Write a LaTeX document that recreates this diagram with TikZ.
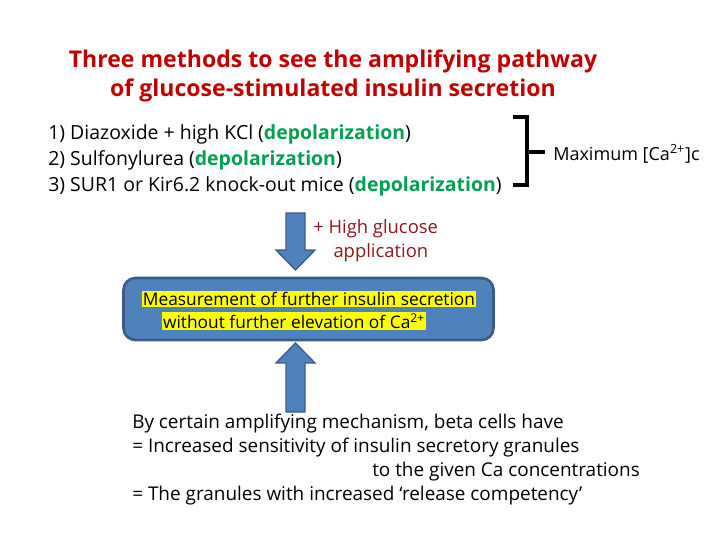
\documentclass[tikz,border=0pt]{standalone}
\usepackage{fontspec}
\setmainfont{Open Sans}
\definecolor{titlered}{HTML}{C00000}
\definecolor{darkred}{HTML}{8B1A1A}
\definecolor{grn}{HTML}{00A050}
\definecolor{boxblue}{HTML}{4F81BD}
\definecolor{boxedge}{HTML}{385D8A}
\definecolor{hl}{HTML}{FFFF00}
\tikzset{
  txt/.style={inner sep=0pt, font=\fontsize{13.8}{18.5}\selectfont, align=left},
  bigarrow/.style={fill=boxblue, draw=boxedge, line width=1pt},
  hilite/.style={fill=hl, inner sep=1pt, font=\fontsize{13}{16}\selectfont}
}
\newcommand{\dep}{\textbf{\textcolor{grn}{depolarization}}}
\begin{document}
\begin{tikzpicture}[x=0.75pt,y=-0.75pt]
\useasboundingbox (0,0) rectangle (720,540);
\node[inner sep=0pt, align=center, text=titlered, font=\fontsize{17.3}{22}\selectfont\bfseries] (title) at (333,76)
  {Three methods to see the amplifying pathway\\of glucose-stimulated insulin secretion};
\node[txt, anchor=north west, font=\fontsize{14.6}{19.5}\selectfont] (list) at (48,124)
  {1) Diazoxide + high KCl (\dep)\\2) Sulfonylurea (\dep)\\3) SUR1 or Kir6.2 knock-out mice (\dep)};
\coordinate (b1) at (513,117);
\coordinate (b2) at (513,185);
\coordinate (bm) at (545,152);
\draw[line width=2.5pt] (b1) -- ++(14,0) coordinate (bt) -- (bt |- b2) -- (b2);
\draw[line width=2.5pt] (bt |- bm) -- (bm);
\node[txt, anchor=west, font=\fontsize{13.5}{18}\selectfont] (max) at (553,154) {Maximum [Ca\textsuperscript{2+}]c};
\draw[bigarrow] (286,213) -- (305,213) -- (305,250) -- (315,250) -- (295.5,270) -- (276,250) -- (286,250) -- cycle;
\node[txt, text=darkred, align=left, anchor=north west] (glu) at (313,219) {+ High glucose\\\hspace{1.1em}application};
\node[draw=boxedge, fill=boxblue, line width=2pt, rounded corners=9pt, minimum width=370pt*0.75, minimum height=62pt*0.75] (box) at (308.5,309) {};
\node[hilite] (l1) at (309,299) {Measurement of further insulin secretion};
\node[hilite] (l2) at (294,321) {without further elevation of Ca\textsuperscript{2+}};
\draw[bigarrow] (286,412) -- (305,412) -- (305,363) -- (315,363) -- (295.5,343) -- (276,363) -- (286,363) -- cycle;
\node[txt, anchor=north west, font=\fontsize{14.2}{18}\selectfont] (bottom) at (132,414)
  {By certain amplifying mechanism, beta cells have\\
   = Increased sensitivity of insulin secretory granules\\
   \hspace*{180pt}to the given Ca concentrations\\
   = The granules with increased ‘release competency’};
\end{tikzpicture}
\end{document}
